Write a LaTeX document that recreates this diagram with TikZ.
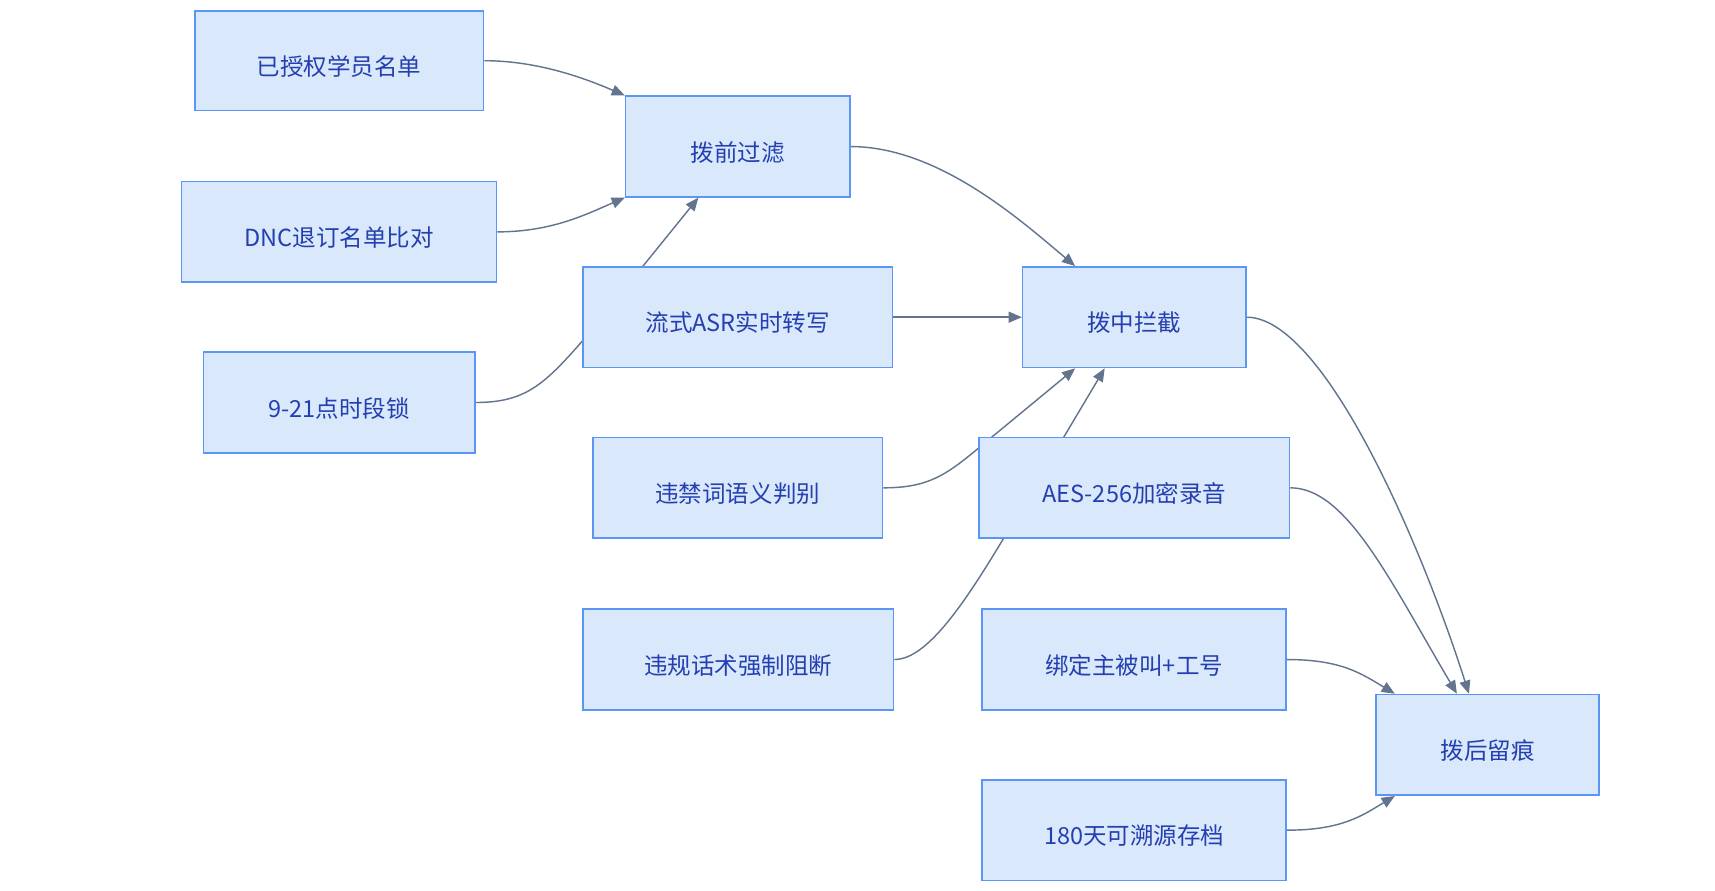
\documentclass[tikz,border=0pt]{standalone}
\usepackage{fontspec}
\newfontfamily\cjk{Noto Sans CJK SC}
\usetikzlibrary{arrows.meta,calc}
\definecolor{boxfill}{HTML}{DAE8FC}
\definecolor{boxline}{HTML}{5A96F5}
\definecolor{boxtext}{HTML}{2440B0}
\definecolor{edgecol}{HTML}{63748F}
\pgfdeclarelayer{bg}
\pgfsetlayers{bg,main}
\tikzset{
  box/.style={draw=boxline,fill=boxfill,line width=1.5pt,inner sep=0pt,
    text height=26.5pt,text depth=0pt,
    text=boxtext,font=\cjk\fontsize{21.5}{26}\selectfont},
  conn/.style={draw=edgecol,line width=1.3pt,-{Triangle[length=12pt,width=10pt]}},
}
\begin{document}
\begin{tikzpicture}[x=1pt,y=-1pt]
\begin{pgfonlayer}{bg}
\fill[white] (0,0) rectangle (1568,814.6);
\end{pgfonlayer}
\useasboundingbox (0,0) rectangle (1568,814.6);
\node[box,minimum width=264pt,minimum height=91pt] (n1) at (310,55.5) {已授权学员名单};
\node[box,minimum width=288pt,minimum height=92pt] (n2) at (310,212) {DNC退订名单比对};
\node[box,minimum width=248pt,minimum height=92pt] (n3) at (310,368) {9-21点时段锁};
\node[box,minimum width=205pt,minimum height=92pt] (n4) at (674.5,134) {拨前过滤};
\node[box,minimum width=283pt,minimum height=92pt] (n5) at (674.5,290) {流式ASR实时转写};
\node[box,minimum width=265pt,minimum height=92pt] (n6) at (674.5,446) {违禁词语义判别};
\node[box,minimum width=284pt,minimum height=92pt] (n7) at (675,603) {违规话术强制阻断};
\node[box,minimum width=204pt,minimum height=92pt] (n8) at (1037,290) {拨中拦截};
\node[box,minimum width=284pt,minimum height=92pt] (n9) at (1037,446) {AES-256加密录音};
\node[box,minimum width=278pt,minimum height=92pt] (n10) at (1037,603) {绑定主被叫+工号};
\node[box,minimum width=278pt,minimum height=92pt] (n11) at (1037,759) {180天可溯源存档};
\node[box,minimum width=204pt,minimum height=92pt] (n12) at (1360,681) {拨后留痕};
\begin{pgfonlayer}{bg}
\draw[conn] (n1.east) .. controls +(50,0) and +(-35,-15) .. (n4.north west);
\draw[conn] (n2.east) .. controls +(50,0) and +(-35,15) .. (n4.south west);
\draw[conn] (n3.east) .. controls +(45,0) and +(-35,40) .. ($(n5.west)+(0,22)$) -- ([xshift=-36pt]n4.south);
\draw[conn] (n4.east) .. controls +(80,0) and +(-50,-42) .. ([xshift=-54pt]n8.north);
\draw[conn] (n5.east) -- (n8.west);
\draw[conn] (n6.east) .. controls +(40,0) and +(-30,25) .. ($(n9.west)+(0,-36)$) -- ([xshift=-54pt]n8.south);
\draw[conn] (n7.east) .. controls +(30,0) and +(-35,58) .. ($(n9.south west)+(23,0)$) -- ([xshift=-27pt]n8.south);
\draw[conn] (n8.east) .. controls +(71,0) and +(-43,-135) .. ([xshift=-17pt]n12.north);
\draw[conn] (n9.east) .. controls +(51,0) and +(-62,-105) .. ([xshift=-28pt]n12.north);
\draw[conn] (n10.east) .. controls +(50,0) and +(-30,-18) .. ([xshift=18pt]n12.north west);
\draw[conn] (n11.east) .. controls +(50,0) and +(-30,18) .. ([xshift=18pt]n12.south west);
\end{pgfonlayer}
\end{tikzpicture}
\end{document}
